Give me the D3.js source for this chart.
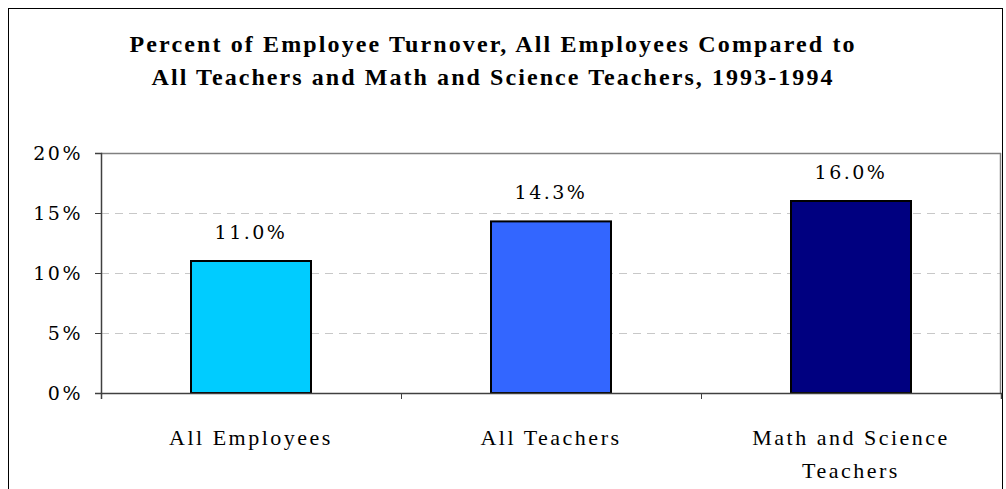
<!DOCTYPE html>
<html><head><meta charset="utf-8">
<script src="https://cdn.jsdelivr.net/npm/d3@7"></script>
<style>body{margin:0;background:#fff}svg{display:block}
.ser{font-family:"DejaVu Serif","Liberation Serif",serif}
.lib{font-family:"Liberation Serif","DejaVu Serif",serif}
</style>
</head><body>
<svg id="c" width="1006" height="489"></svg>
<script>
const titleLines = ["Percent of Employee Turnover, All Employees Compared to", "All Teachers and Math and Science Teachers, 1993-1994"];
const categories = [["All Employees"], ["All Teachers"], ["Math and Science", "Teachers"]];
const values = [11.0, 14.3, 16.0];
const colors = ["#00CCFF", "#3366FF", "#000080"];
const yTicks = [0, 5, 10, 15, 20];

const svg = d3.select("#c");
const m = {l: 101, r: 1001, t: 153, b: 393};
svg.append("rect").attr("x", 8.5).attr("y", 8.5).attr("width", 994).attr("height", 500)
  .attr("fill", "none").attr("stroke", "#000").attr("stroke-width", 1);

const x = d3.scaleBand().domain(d3.range(categories.length)).range([m.l, m.r]).paddingInner(0.6).paddingOuter(0.3);
const y = d3.scaleLinear().domain([0, 20]).range([m.b, m.t]);

svg.append("g").selectAll("line").data(yTicks.filter(d => d > 0 && d < 20)).join("line")
  .attr("x1", m.l).attr("x2", m.r).attr("y1", d => Math.round(y(d)) + 0.5).attr("y2", d => Math.round(y(d)) + 0.5)
  .attr("stroke", "#c8c8c8").attr("stroke-dasharray", "8,6");
svg.append("line").attr("x1", m.l).attr("x2", m.r).attr("y1", m.t + 0.5).attr("y2", m.t + 0.5).attr("stroke", "#808080").attr("stroke-width", 1.5);
svg.append("line").attr("x1", m.r - 0.5).attr("x2", m.r - 0.5).attr("y1", m.t).attr("y2", m.b).attr("stroke", "#808080").attr("stroke-width", 1.5);

svg.append("g").selectAll("rect").data(values).join("rect")
  .attr("x", (d, i) => x(i)).attr("width", x.bandwidth())
  .attr("y", d => y(d)).attr("height", d => y(0) - y(d))
  .attr("fill", (d, i) => colors[i]).attr("stroke", "#000").attr("stroke-width", 2);

const ya = svg.append("g").attr("transform", `translate(${m.l},0)`)
  .call(d3.axisLeft(y).tickValues(yTicks).tickSize(6).tickFormat(d => d + "%"));
ya.attr("font-family", null).attr("font-size", null);
ya.select(".domain").attr("stroke", "#404040").attr("stroke-width", 1.5);
ya.selectAll(".tick line").attr("stroke", "#404040");
ya.selectAll("text").attr("class", "ser").style("font-size", "19px").style("letter-spacing", "2.5px")
  .attr("fill", "#000").attr("x", -18).attr("dy", "0.35em");

const xb = d3.scaleLinear().domain([0, categories.length]).range([m.l, m.r]);
const xa = svg.append("g").attr("transform", `translate(0,${m.b})`)
  .call(d3.axisBottom(xb).tickValues(d3.range(categories.length + 1)).tickSize(6).tickFormat(""));
xa.select(".domain").attr("stroke", "#404040").attr("stroke-width", 1.5);
xa.selectAll(".tick line").attr("stroke", "#404040");

svg.append("g").selectAll("text").data(categories).join("text")
  .attr("class", "lib")
  .attr("x", (d, i) => x(i) + x.bandwidth() / 2).attr("y", 445)
  .attr("text-anchor", "middle").style("font-size", "22px").style("letter-spacing", "2.5px")
  .each(function(d) {
    d3.select(this).selectAll("tspan").data(d).join("tspan")
      .attr("x", d3.select(this).attr("x")).attr("dy", (t, j) => j ? 33 : 0).text(t => t);
  });

svg.append("g").selectAll("text").data(values).join("text")
  .attr("class", "ser")
  .attr("x", (d, i) => x(i) + x.bandwidth() / 2).attr("y", d => y(d) - 22)
  .attr("text-anchor", "middle").style("font-size", "19px")
  .style("letter-spacing", "2.5px").text(d => d.toFixed(1) + "%");

const titleW = [725, 681];
svg.append("g").selectAll("text").data(titleLines).join("text")
  .attr("class", "lib")
  .attr("x", 492).attr("y", (d, i) => 52 + i * 33).attr("text-anchor", "middle")
  .attr("font-weight", "bold").style("font-size", "24px")
  .attr("textLength", (d, i) => titleW[i]).attr("lengthAdjust", "spacing").text(d => d);
</script>
</body></html>
